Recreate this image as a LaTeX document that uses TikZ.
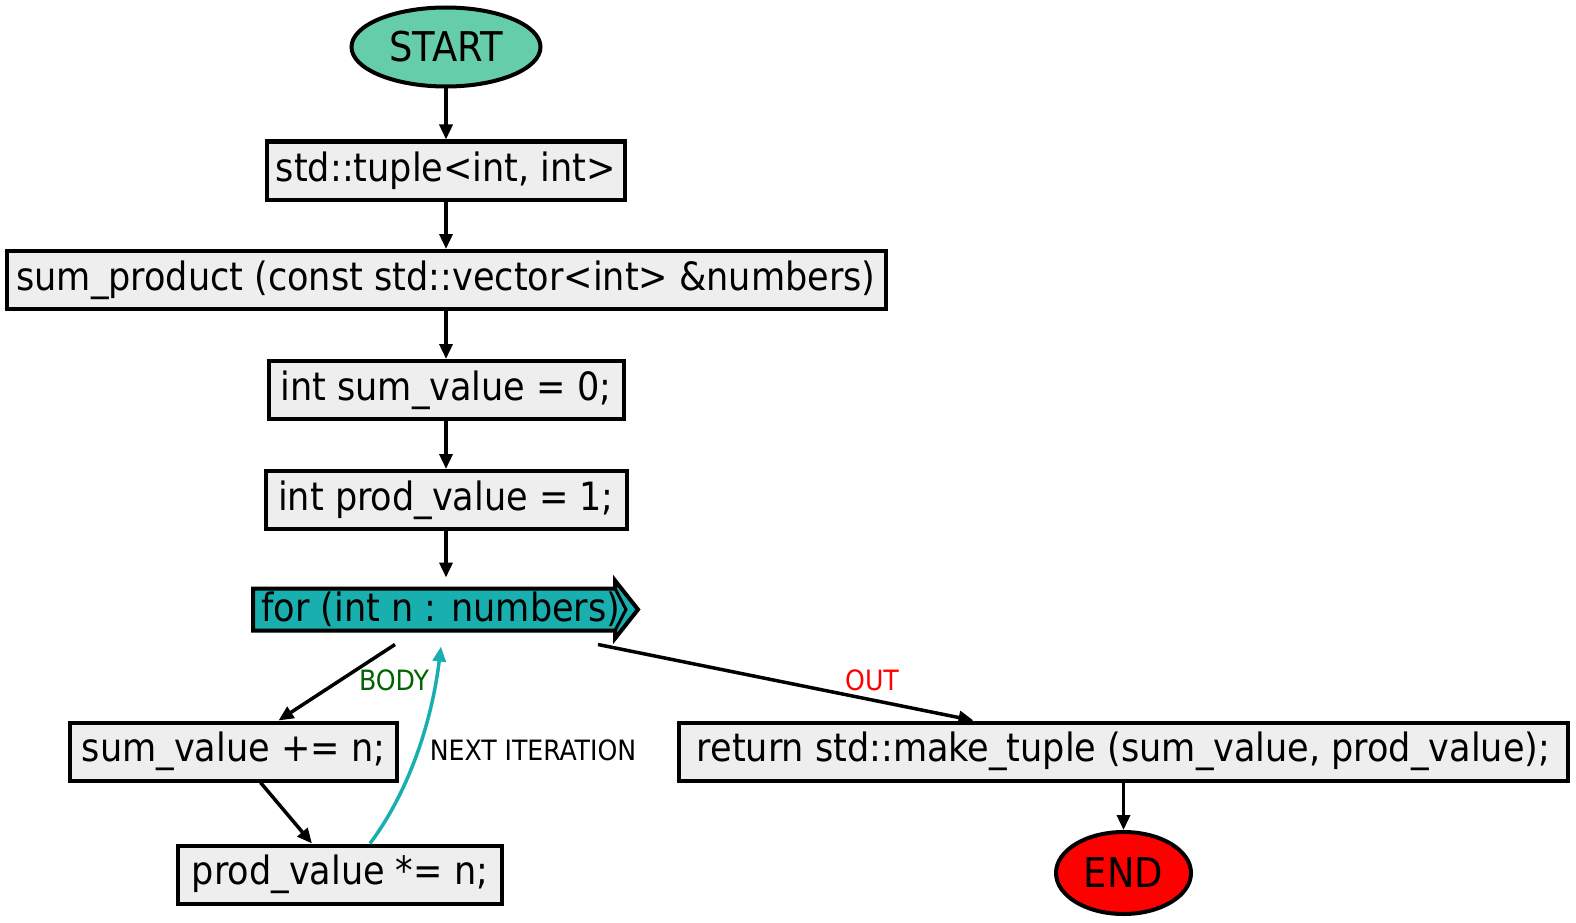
\documentclass[tikz,border=0pt]{standalone}
\usepackage{fontspec}
\setmainfont{DejaVu Sans Condensed}
\usepackage{xcolor}
\usepackage{tikz}
\usetikzlibrary{positioning,calc,arrows.meta,shapes.geometric,backgrounds}

\definecolor{startgreen}{HTML}{66CDAA}
\definecolor{boxgrey}{HTML}{EEEEEE}
\definecolor{loopteal}{HTML}{1AAFAF}
\definecolor{bodygreen}{HTML}{006400}

\begin{document}
\begin{tikzpicture}[
						x=1pt, y=1pt,
						stmt/.style={             % Ô lệnh (nền xám)
							draw=black, line width=4pt,
							fill=boxgrey,
							minimum height=58pt,
							inner sep=0pt,
							font=\fontsize{39}{44}\selectfont,
							anchor=center
						},
						term/.style={             % Nút đầu / cuối
							ellipse, draw=black, line width=4pt,
							inner sep=0pt,
							font=\fontsize{41}{45}\selectfont
						},
						flow/.style={             % Mũi tên đen
							-{Triangle[length=15pt,width=13pt]},
							black, line width=3.5pt
						},
						edgelbl/.style={
							font=\fontsize{28}{31}\selectfont,
							inner sep=0pt
						}
						]
						% --- KHUNG ---
						\useasboundingbox (0,0) rectangle (1576,-923);
						
						% --- CỘT CHÍNH ---
						\node[term, fill=startgreen, minimum width=189pt, minimum height=79pt] (start) at (446,-47) {START};
						\node[stmt, minimum width=358pt] (tup) at (446,-170.5) {std::tuple<int, int>};
						\node[stmt, minimum width=879pt] (sp) at (446,-280) {sum\_product (const std::vector<int> \&numbers)};
						\node[stmt, minimum width=355pt] (sumv0) at (446,-390) {int sum\_value = 0;};
						\node[stmt, minimum width=361pt] (prodv1) at (446,-500) {int prod\_value = 1;};
						
						% Vòng lặp for (hình mũi tên)
						\node[stmt, draw=none, fill=none, minimum height=42pt] (loop) at (441,-609.5) {for (int n : numbers)};
						\coordinate (loop-sw) at ($(loop.center)+(-188,-21)$);
						\coordinate (loop-nw) at ($(loop.center)+(-188,21)$);
						\coordinate (loop-ne) at ($(loop.center)+(174,21)$);
						\coordinate (loop-se) at ($(loop.center)+(174,-21)$);
						\begin{scope}[on background layer]
							\filldraw[fill=loopteal, draw=black, line width=4pt, line join=miter]
							(loop-sw) -- (loop-nw) -- (loop-ne) -- ++(0,8)
							-- ($(loop.center)+(197,0)$) -- ($(loop-se)+(0,-8)$) -- (loop-se) -- cycle;
							\draw[line width=3pt] (loop-ne) -- ($(loop.center)+(185,0)$) -- (loop-se);
						\end{scope}
						
						% --- THÂN VÒNG LẶP ---
						\node[stmt, minimum width=327pt] (sumv) at (233.5,-751.5) {sum\_value += n;};
						\node[stmt, minimum width=324pt] (prodv) at (340,-874.5) {prod\_value *= n;};
						
						% --- KẾT THÚC ---
						\node[stmt, minimum width=889pt] (ret) at (1123.5,-751.5) {return std::make\_tuple (sum\_value, prod\_value);};
						\node[term, fill=red, minimum width=135pt, minimum height=82pt] (fin) at (1123.5,-873) {END};
						
						% --- MŨI TÊN ---
						\foreach \a/\b in {start/tup, tup/sp, sp/sumv0, sumv0/prodv1} {
							\draw[flow] (\a) -- (\b);
						}
						\draw[flow] (prodv1.south) -- ([xshift=5pt,yshift=9pt]loop.north);
						\draw[flow] ([xshift=-46pt,yshift=-12pt]loop.south) -- ([xshift=45pt]sumv.north);
						\draw[flow] ([xshift=27pt]sumv.south) -- ([xshift=-28pt]prodv.north);
						\draw[flow, draw=loopteal, -{Triangle[length=15pt,width=13pt,fill=loopteal]}]
							([xshift=30pt]prodv.north) .. controls (410,-790) and (432,-720) .. ([yshift=-14pt]loop.south);
						\draw[flow] ([xshift=157pt,yshift=-12pt]loop.south) -- ([xshift=-150pt]ret.north);
						\draw[flow] (ret) -- (fin);
						
						% Nhãn cạnh
						\node[edgelbl, text=bodygreen] (lblbody) at (394,-680) {BODY};
						\node[edgelbl] (lblnext) at (533,-750) {NEXT ITERATION};
						\node[edgelbl, text=red] (lblout) at (872,-680) {OUT};
						
					\end{tikzpicture}
\end{document}
